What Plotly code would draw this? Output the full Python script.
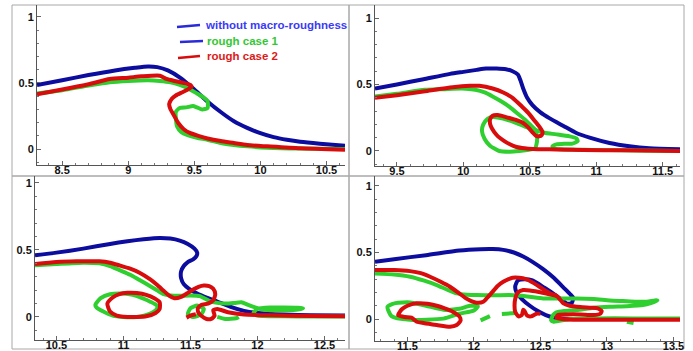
import plotly.graph_objects as go

W, H = 693, 351

# ---------------- data ----------------
p1_blue_x = [8.31, 8.5, 8.7, 8.9, 9.05, 9.15, 9.22, 9.3, 9.4, 9.5, 9.6, 9.7, 9.8, 9.9, 10.0, 10.1, 10.2, 10.3, 10.45, 10.64]
p1_blue_y = [0.485, 0.52, 0.56, 0.595, 0.615, 0.625, 0.62, 0.595, 0.535, 0.45, 0.36, 0.28, 0.21, 0.16, 0.12, 0.09, 0.07, 0.055, 0.04, 0.025]
p1_green_x = [8.31, 8.5, 8.7, 8.86, 9.0, 9.15, 9.24, 9.32, 9.39, 9.46, 9.52, 9.57, 9.6, 9.6, 9.56, 9.52, 9.49, 9.44, 9.39, 9.36, 9.36, 9.37, 9.4, 9.45, 9.52, 9.6, 9.7, 9.8, 9.9, 10.05, 10.3, 10.64]
p1_green_y = [0.42, 0.445, 0.48, 0.505, 0.515, 0.52, 0.515, 0.505, 0.485, 0.455, 0.42, 0.39, 0.365, 0.31, 0.30, 0.315, 0.325, 0.315, 0.31, 0.28, 0.24, 0.17, 0.13, 0.105, 0.085, 0.07, 0.045, 0.03, 0.02, 0.01, 0.003, 0.0]
p1_red_x = [8.31, 8.5, 8.7, 8.86, 9.0, 9.1, 9.24, 9.29, 9.35, 9.42, 9.47, 9.48, 9.45, 9.41, 9.36, 9.33, 9.31, 9.32, 9.34, 9.38, 9.42, 9.47, 9.53, 9.6, 9.7, 9.8, 9.9, 10.05, 10.3, 10.64]
p1_red_y = [0.415, 0.45, 0.49, 0.53, 0.54, 0.55, 0.555, 0.53, 0.515, 0.5, 0.485, 0.47, 0.45, 0.43, 0.405, 0.38, 0.34, 0.3, 0.265, 0.195, 0.15, 0.12, 0.1, 0.08, 0.06, 0.045, 0.03, 0.02, 0.005, -0.005]

p2_blue_x = [9.335, 9.5, 9.7, 9.9, 10.0, 10.1, 10.17, 10.25, 10.32, 10.37, 10.41, 10.43, 10.45, 10.48, 10.52, 10.58, 10.65, 10.75, 10.85, 10.95, 11.1, 11.25, 11.4, 11.63]
p2_blue_y = [0.47, 0.5, 0.54, 0.58, 0.595, 0.61, 0.62, 0.62, 0.615, 0.6, 0.575, 0.53, 0.47, 0.4, 0.345, 0.29, 0.245, 0.19, 0.135, 0.1, 0.06, 0.035, 0.02, 0.013]
p2_green_x = [9.335, 9.5, 9.71, 9.85, 9.99, 10.09, 10.16, 10.22, 10.29, 10.35, 10.41, 10.47, 10.51, 10.54, 10.58, 10.62, 10.7, 10.8, 10.85, 10.86, 10.82, 10.76, 10.70, 10.67, 10.68, 10.73, 10.85, 10.97, 11.2, 11.63,
              None, 10.54, 10.555, 10.55, 10.54, 10.48, 10.42, 10.35, 10.27, 10.2, 10.16, 10.14, 10.15, 10.18, 10.22, 10.27, 10.33, 10.40, 10.46, 10.51, 10.54]
p2_green_y = [0.41, 0.43, 0.46, 0.465, 0.47, 0.46, 0.44, 0.41, 0.37, 0.33, 0.28, 0.23, 0.19, 0.16, 0.145, 0.135, 0.125, 0.11, 0.095, 0.075, 0.055, 0.055, 0.05, 0.035, 0.02, 0.013, 0.01, 0.008, 0.005, 0.0,
              None, 0.16, 0.1, 0.05, 0.02, 0.008, 0.0, -0.005, 0.0, 0.04, 0.09, 0.15, 0.2, 0.24, 0.255, 0.25, 0.235, 0.21, 0.185, 0.165, 0.16]
p2_red_x = [9.335, 9.5, 9.71, 9.92, 10.05, 10.12, 10.22, 10.3, 10.37, 10.44, 10.49, 10.53, 10.57, 10.595, 10.59, 10.57, 10.545, 10.52, 10.49, 10.45, 10.39, 10.32, 10.26, 10.22, 10.2, 10.205, 10.23, 10.26, 10.3, 10.35, 10.4, 10.46, 10.52, 10.7, 10.9, 11.2, 11.63]
p2_red_y = [0.4, 0.42, 0.45, 0.48, 0.49, 0.49, 0.47, 0.44, 0.4, 0.335, 0.285, 0.235, 0.185, 0.145, 0.12, 0.11, 0.115, 0.14, 0.175, 0.21, 0.235, 0.255, 0.27, 0.265, 0.235, 0.19, 0.145, 0.11, 0.08, 0.05, 0.03, 0.02, 0.015, 0.012, 0.008, 0.005, 0.0]

p3_blue_x = [10.34, 10.5, 10.7, 10.9, 11.03, 11.15, 11.27, 11.35, 11.42, 11.48, 11.53, 11.55, 11.545, 11.52, 11.48, 11.45, 11.43, 11.43, 11.45, 11.49, 11.55, 11.62, 11.7, 11.8, 11.9, 12.0, 12.2, 12.4, 12.653]
p3_blue_y = [0.46, 0.48, 0.51, 0.545, 0.565, 0.58, 0.59, 0.585, 0.57, 0.545, 0.51, 0.48, 0.455, 0.43, 0.41, 0.38, 0.34, 0.29, 0.245, 0.21, 0.175, 0.145, 0.115, 0.075, 0.045, 0.03, 0.018, 0.012, 0.01]
p3_green_x = [10.34, 10.5, 10.7, 10.82, 10.9, 10.97, 11.05, 11.12, 11.2, 11.25, 11.3, 11.35, 11.42, 11.5, 11.57, 11.64, 11.7, 11.77, 11.83, 11.88, 11.93, 11.97, 12.02, 12.1, 12.2, 12.3, 12.34, 12.3, 12.2, 12.1, 12.0, 11.97, 12.0, 12.2, 12.4, 12.653,
              None, 10.79, 10.83, 10.9, 11.0, 11.07, 11.14, 11.2, 11.25, 11.25, 11.22, 11.16, 11.1, 11.0, 10.92, 10.85, 10.8, 10.79,
              None, 11.48, 11.5, 11.55, 11.6, 11.58, 11.52, 11.48,
              None, 11.7, 11.76, 11.84, 11.86]
p3_green_y = [0.385, 0.395, 0.405, 0.4, 0.38, 0.35, 0.315, 0.275, 0.23, 0.2, 0.17, 0.16, 0.158, 0.16, 0.155, 0.12, 0.105, 0.1, 0.105, 0.11, 0.09, 0.075, 0.06, 0.05, 0.05, 0.055, 0.065, 0.068, 0.07, 0.07, 0.06, 0.03, 0.01, 0.005, 0.003, 0.003,
              None, 0.09, 0.14, 0.17, 0.175, 0.165, 0.14, 0.114, 0.085, 0.06, 0.035, 0.012, 0.0, 0.0, 0.01, 0.04, 0.07, 0.09,
              None, 0.02, 0.065, 0.085, 0.06, 0.02, 0.0, 0.02,
              None, 0.0, -0.015, -0.01, 0.0]
p3_red_x = [10.34, 10.5, 10.65, 10.82, 10.9, 10.97, 11.05, 11.12, 11.2, 11.25, 11.3, 11.34, 11.38, 11.43, 11.48, 11.52, 11.56, 11.6, 11.64, 11.67, 11.685, 11.67, 11.63, 11.58, 11.555, 11.56, 11.585, 11.62, 11.655, 11.68, 11.67, 11.7, 11.78, 11.9, 12.1, 12.4, 12.653,
            None, 10.88, 10.92, 10.97, 11.03, 11.1, 11.17, 11.23, 11.27, 11.27, 11.24, 11.17, 11.1, 11.03, 10.95, 10.9, 10.88,
            None, 11.47, 11.5, 11.54]
p3_red_y = [0.395, 0.41, 0.415, 0.415, 0.405, 0.385, 0.36, 0.33, 0.28, 0.24, 0.195, 0.16, 0.14, 0.15, 0.18, 0.205, 0.225, 0.235, 0.23, 0.21, 0.17, 0.125, 0.1, 0.09, 0.065, 0.03, 0.005, -0.015, -0.015, 0.01, 0.05, 0.06, 0.035, 0.018, 0.012, 0.008, 0.005,
            None, 0.1, 0.145, 0.17, 0.18, 0.178, 0.165, 0.14, 0.11, 0.06, 0.03, 0.005, 0.0, 0.0, 0.01, 0.04, 0.1,
            None, -0.005, 0.01, 0.02]

p4_blue_x = [11.256, 11.4, 11.64, 11.89, 12.05, 12.14, 12.22, 12.3, 12.37, 12.44, 12.52, 12.6, 12.67, 12.72, 12.745, 12.735, 12.7, 12.62, 12.53, 12.44, 12.38, 12.33, 12.31, 12.32, 12.36, 12.42, 12.48, 12.54, 12.6, 12.67, 12.9, 13.2, 13.549]
p4_blue_y = [0.43, 0.45, 0.48, 0.515, 0.525, 0.526, 0.52, 0.5, 0.47, 0.43, 0.375, 0.31, 0.24, 0.19, 0.16, 0.12, 0.115, 0.175, 0.235, 0.29, 0.3, 0.29, 0.245, 0.2, 0.15, 0.1, 0.06, 0.03, 0.012, 0.003, 0.0, 0.0, 0.0]
p4_green_x = [11.256, 11.4, 11.52, 11.62, 11.72, 11.8, 11.87, 11.95, 12.02, 12.15, 12.27, 12.4, 12.52, 12.65, 12.77, 12.9, 13.02, 13.12, 13.22, 13.3, 13.36, 13.38, 13.33, 13.27, 13.15, 13.02, 12.9, 12.77, 12.68, 12.62, 12.595, 12.58, 12.6, 12.72, 12.9, 13.2, 13.549,
              None, 11.35, 11.41, 11.52, 11.64, 11.77, 11.89, 11.97, 12.03, 12.0, 11.89, 11.77, 11.52, 11.38, 11.35,
              None, 12.05, 12.12,
              None, 12.21, 12.32,
              None, 13.15, 13.2]
p4_green_y = [0.343, 0.335, 0.318, 0.29, 0.255, 0.22, 0.193, 0.183, 0.18, 0.178, 0.18, 0.17, 0.155, 0.155, 0.155, 0.15, 0.14, 0.135, 0.13, 0.13, 0.14, 0.14, 0.12, 0.105, 0.097, 0.093, 0.085, 0.067, 0.06, 0.05, 0.03, -0.01, -0.02, 0.0, 0.005, 0.005, 0.005,
              None, 0.093, 0.12, 0.125, 0.10, 0.07, 0.077, 0.10, 0.095, 0.065, 0.04, 0.003, -0.005, 0.022, 0.093,
              None, -0.01, 0.022,
              None, 0.038, 0.045,
              None, -0.02, -0.03]
p4_red_x = [11.256, 11.4, 11.52, 11.6, 11.67, 11.75, 11.82, 11.88, 11.94, 11.98, 12.02, 12.07, 12.1, 12.14, 12.18, 12.22, 12.26, 12.29, 12.34, 12.39, 12.45, 12.52, 12.58, 12.62, 12.645, 12.67, 12.72, 12.8, 12.88, 12.93, 12.96, 12.95, 12.9, 12.8, 12.7, 12.63, 12.62, 12.66, 12.75, 13.0, 13.3, 13.549,
            None, 12.62, 12.55, 12.48, 12.42, 12.37, 12.33, 12.31, 12.305, 12.31, 12.335, 12.36, 12.37, 12.38, 12.4, 12.43, 12.47, 12.5,
            None, 11.43, 11.46, 11.5, 11.57, 11.65, 11.72, 11.78, 11.84, 11.89, 11.9, 11.87, 11.82, 11.72, 11.62, 11.57, 11.53, 11.48, 11.43]
p4_red_y = [0.368, 0.368, 0.36, 0.345, 0.318, 0.28, 0.243, 0.2, 0.155, 0.135, 0.123, 0.13, 0.16, 0.205, 0.25, 0.28, 0.3, 0.31, 0.31, 0.3, 0.27, 0.225, 0.19, 0.175, 0.15, 0.12, 0.1, 0.09, 0.085, 0.08, 0.06, 0.04, 0.03, 0.035, 0.035, 0.03, 0.01, 0.0, -0.005, -0.005, -0.005, -0.005,
            None, 0.175, 0.19, 0.205, 0.215, 0.218, 0.2, 0.15, 0.1, 0.055, 0.02, 0.03, 0.07, 0.06, 0.025, 0.02, 0.04, 0.04,
            None, 0.03, 0.075, 0.1, 0.118, 0.115, 0.1, 0.08, 0.055, 0.02, -0.01, -0.045, -0.058, -0.045, -0.03, -0.02, 0.01, 0.015, 0.03]

x_ticks = [[8.5, 9, 9.5, 10, 10.5], [9.5, 10, 10.5, 11, 11.5], [10.5, 11, 11.5, 12, 12.5], [11.5, 12, 12.5, 13, 13.5]]
x_tick_labels = [["8.5", "9", "9.5", "10", "10.5"], ["9.5", "10", "10.5", "11", "11.5"],
                 ["10.5", "11", "11.5", "12", "12.5"], ["11.5", "12", "12.5", "13", "13.5"]]
y_ticks = [0, 0.5, 1]
y_tick_labels = ["0", "0.5", "1"]

legend_labels = ["without macro-roughness", "rough case 1", "rough case 2"]

# ---------------- style / layout ----------------
BLUE = "#0c0c9e"
GREEN = "#2fcf2f"
RED = "#d80c0c"
LW = 4

panels = [
    dict(bx=p1_blue_x, by=p1_blue_y, gx=p1_green_x, gy=p1_green_y, rx=p1_red_x, ry=p1_red_y,
         px=(37, 345), py=(5, 165), xr=[8.31, 10.64], yr=[-0.121, 1.09]),
    dict(bx=p2_blue_x, by=p2_blue_y, gx=p2_green_x, gy=p2_green_y, rx=p2_red_x, ry=p2_red_y,
         px=(375, 680), py=(5, 166), xr=[9.335, 11.63], yr=[-0.113, 1.098]),
    dict(bx=p3_blue_x, by=p3_blue_y, gx=p3_green_x, gy=p3_green_y, rx=p3_red_x, ry=p3_red_y,
         px=(35, 345), py=(176, 340), xr=[10.34, 12.653], yr=[-0.172, 1.052]),
    dict(bx=p4_blue_x, by=p4_blue_y, gx=p4_green_x, gy=p4_green_y, rx=p4_red_x, ry=p4_red_y,
         px=(375, 680), py=(176, 341), xr=[11.256, 13.549], yr=[-0.165, 1.075]),
]

fig = go.Figure()
lay = {}
font_tick = dict(family="Liberation Sans, Arial, sans-serif", size=11, color="#111111", weight="bold")
for i, p in enumerate(panels):
    n = "" if i == 0 else str(i + 1)
    xa, ya = "x" + n, "y" + n
    for xs, ys, c in ((p["bx"], p["by"], BLUE), (p["gx"], p["gy"], GREEN), (p["rx"], p["ry"], RED)):
        fig.add_trace(go.Scatter(x=xs, y=ys, mode="lines", xaxis=xa, yaxis=ya,
                                 line=dict(color=c, width=LW, shape="spline", smoothing=0.6),
                                 showlegend=False, hoverinfo="skip"))
    lay["xaxis" + n] = dict(domain=[p["px"][0] / W, p["px"][1] / W], range=p["xr"], anchor=ya,
                            tickvals=x_ticks[i], ticktext=x_tick_labels[i], automargin=False,
                            ticks="inside", ticklen=4, tickcolor="#666", showgrid=False, zeroline=False,
                            showline=True, linecolor="#555", linewidth=1, ticklabelstandoff=-5,
                            minor=dict(ticks="inside", dtick=0.1, tick0=0, ticklen=2, tickcolor="#777", showgrid=False),
                            tickfont=font_tick)
    lay["yaxis" + n] = dict(domain=[1 - p["py"][1] / H, 1 - p["py"][0] / H], range=p["yr"], anchor=xa,
                            tickvals=y_ticks, ticktext=y_tick_labels, automargin=False,
                            ticks="inside", ticklen=4, tickcolor="#666", showgrid=False, zeroline=False,
                            showline=True, linecolor="#555", linewidth=1,
                            minor=dict(ticks="inside", dtick=0.1, tick0=0, ticklen=2, tickcolor="#777", showgrid=False),
                            tickfont=font_tick)

shapes = []
for (x0, y0, x1, y1) in [(12, 5, 349, 176), (349, 5, 684, 176), (12, 176, 349, 349), (349, 176, 684, 349)]:
    shapes.append(dict(type="rect", xref="paper", yref="paper", x0=x0 / W, x1=x1 / W, y0=1 - y1 / H, y1=1 - y0 / H,
                       line=dict(color="#a8a8a8", width=1), layer="below"))

# legend (drawn inside panel 1)
leg_lines = [((177, 27), (200, 25), "#2a2ad8"), ((180, 42), (203, 41), "#2a2ad8"), ((178, 58), (200, 56), RED)]
leg_text = [(203, 25, "#3b3bf5"), (205, 41, "#33c733"), (205, 56, "#dd1a1a")]
annotations = []
for (a, b, c) in leg_lines:
    shapes.append(dict(type="line", xref="paper", yref="paper", x0=a[0] / W, y0=1 - a[1] / H, x1=b[0] / W, y1=1 - b[1] / H,
                       line=dict(color=c, width=2.5)))
for (x, y, c), t in zip(leg_text, legend_labels):
    annotations.append(dict(xref="paper", yref="paper", x=x / W, y=1 - y / H, xanchor="left", yanchor="middle",
                            text="<b>" + t + "</b>", showarrow=False,
                            font=dict(family="Liberation Sans, Arial, sans-serif", size=11.5, color=c)))

fig.update_layout(width=W, height=H, margin=dict(l=0, r=0, t=0, b=0), paper_bgcolor="white", plot_bgcolor="white",
                  shapes=shapes, annotations=annotations, **lay)
fig.write_html("out.html", config={"displayModeBar": False},
               post_script="document.body.style.margin='0';document.body.style.overflow='hidden';")
